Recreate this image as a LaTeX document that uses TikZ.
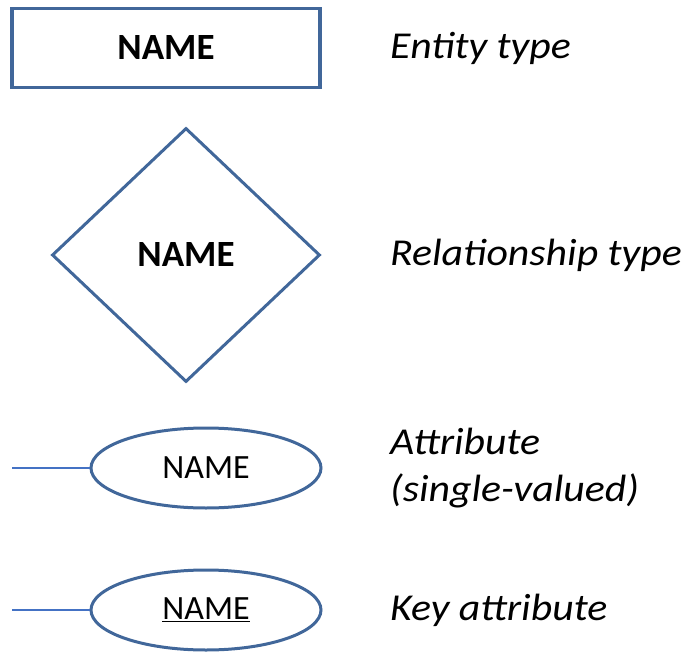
\documentclass[tikz,border=0pt]{standalone}
\usepackage{fontspec}
\setmainfont{Carlito}
\newfontfamily\legendfont{Carlito}[FakeStretch=1.1]
\usetikzlibrary{shapes.geometric,positioning}
\definecolor{erblue}{HTML}{41679A}
\definecolor{linkblue}{HTML}{4472C4}

\begin{document}
\begin{tikzpicture}[x=1pt,y=-1pt,
    entity/.style={draw=erblue,line width=3.6pt,minimum width=308pt,minimum height=79pt,font=\fontsize{37}{44}\selectfont\bfseries},
    relation/.style={diamond,draw=erblue,line width=3pt,minimum width=268pt,minimum height=254pt,aspect=1.05,inner sep=0pt,font=\fontsize{37}{44}\selectfont\bfseries},
    attrib/.style={ellipse,draw=erblue,line width=3pt,minimum width=230pt,minimum height=80pt,inner sep=0pt,font=\fontsize{34}{40}\selectfont},
    legend/.style={anchor=west,inner sep=0pt,align=left,font=\legendfont\fontsize{38}{47}\selectfont\itshape},
    link/.style={draw=linkblue,line width=1.6pt}]
  \useasboundingbox (0,0) rectangle (692,652);
  % symbols
  \node[entity] (ent) at (166,48) {NAME};
  \node[relation] (rel) at (186,255) {NAME};
  \node[attrib] (att) at (206,468) {NAME};
  \node[attrib] (key) at (206,610) {\underline{NAME}};
  \coordinate (attend) at (12,468);
  \coordinate (keyend) at (12,610);
  \draw[link] (attend) -- (att.west);
  \draw[link] (keyend) -- (key.west);
  % descriptions
  \node[legend] (entlbl) at (390,48) {Entity type};
  \node[legend] (rellbl) at (390,255) {Relationship type};
  \node[legend] (attlbl) at (390,468) {Attribute\\(single-valued)};
  \node[legend] (keylbl) at (390,610) {Key attribute};
\end{tikzpicture}
\end{document}
